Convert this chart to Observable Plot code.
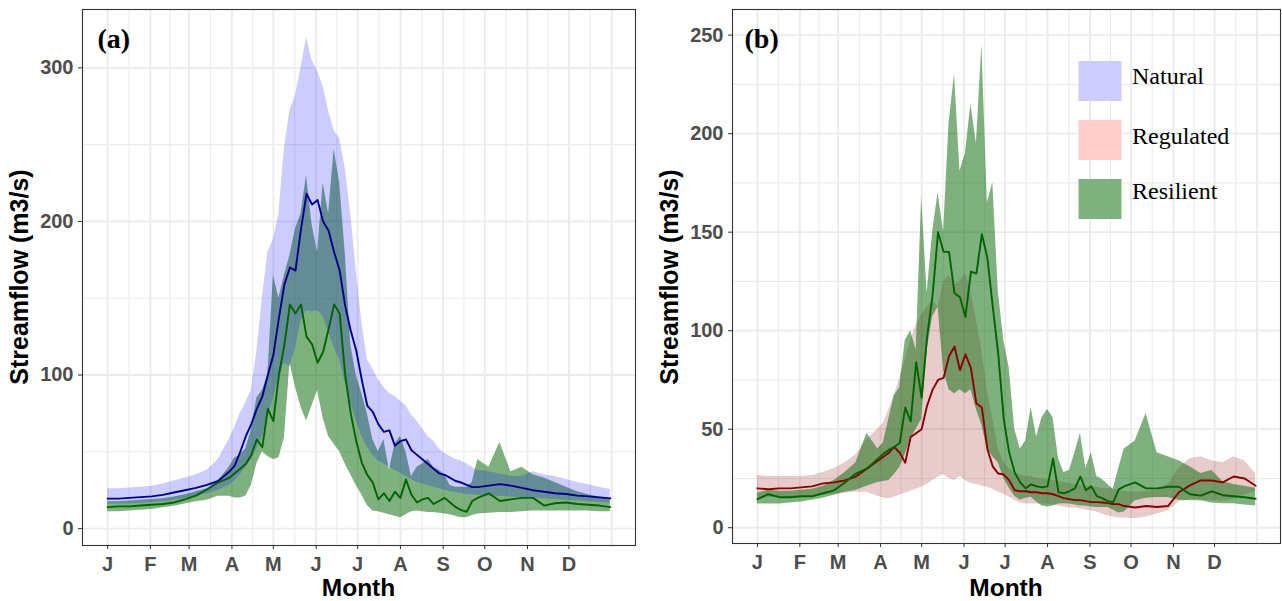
<!DOCTYPE html>
<html>
<head>
<meta charset="utf-8">
<script src="https://cdn.jsdelivr.net/npm/d3@7"></script>
<script src="https://cdn.jsdelivr.net/npm/@observablehq/plot@0.6"></script>
<style>
  html, body { margin: 0; padding: 0; background: #fff; }
  #wrap { display: flex; width: 1282px; height: 601px; }
  .panel { position: relative; width: 641px; height: 601px; }
  .panel > svg { position: absolute; left: 0; top: 0; }
  .panel g[aria-label="x-axis tick label"], .panel g[aria-label="y-axis tick label"] {
    font-family: "Liberation Sans", Arial, sans-serif; font-size: 20px; font-weight: 700; fill: #4d4d4d;
  }
  .overlay { pointer-events: none; }
</style>
</head>
<body>
<div id="wrap"><div class="panel" id="pa"></div><div class="panel" id="pb"></div></div>
<script>
// ---------------- data (day of year, values in m3/s) ----------------
const days = [1,9,17,25,33,41,49,57,65,73,81,89,
  93,97,101,105,109,113,117,121,125,129,133,137,141,145,149,153,157,161,165,169,173,177,181,185,189,193,197,201,205,209,213,217,221,225,229,233,237,241,245,249,253,257,261,265,269,
  277,285,293,301,309,317,325,333,341,349,357,365];

// Panel (a) — Natural
const naturalMeanA = [19.5,19.5,20,20.5,21,22,23.5,25,26.5,28.5,31,37,
  41,50,60,68,78,86,100,113,137,159,170,168,195,218,211,214,200,194,180,168,145,129,116,97,80,76,68,63,64,54,57,58,51,48,45,42,39,36,35,33,31,30,28.5,27,27,
  28,29,28,26.5,25,24,23,22.5,21.5,21,20.3,19.7];
const naturalHighA = [26,26,26.5,27,27.5,29,31,33,35,38,45,58,
  66,75,82,90,115,150,180,188,205,248,272,282,300,320,305,298,288,272,259,254,235,205,168,135,110,104,97,92,88,86,83,80,74,70,65,60,57,52,49,47,45,44,42,40,38,
  37,35.6,34,34,37,35,34,32,30,28.5,27,25.5];
const naturalLowA = [16,16,16,16.5,17,17.5,18.5,19.5,21,22.5,25,28,
  31,35,40,45,52,60,72,85,98,108,105,118,135,142,141,142,138,128,118,110,95,82,70,60,53,48,44,42,40,38,36,34,32,30,29,28,27,26,25,24,23.5,23,22,22,21.5,
  21,21,20.5,20,20,19.5,19,18.5,18,17.5,17,16.5];
// Panel (a) — Resilient
const resilientMeanA = [14,14.5,14.5,15,15.5,16,17,19,21.5,25.5,30,33,
  36,39,42,48,58,53,78,70,100,120,146,140,146,125,120,108,115,130,146,140,100,75,57,43,35,30,19,23,18,24,20,32,22,17,19,20,16,18,20,17,14,12,11,18,20,
  23,18,19,20,20,15,16.5,17,16,15.5,15,14];
const resilientHighA = [17.5,17.5,18,18.5,19,19.5,20.5,22,24,26,31,40,
  46,48,52,64,85,90,100,165,150,165,178,195,205,230,198,180,225,205,247,225,180,120,100,88,75,58,50,58,38,55,60,50,34,40,42,45,40,38,35,28,27,27,27,30,45,
  40,56,37,40,35,33,30,27,24,22,20.5,19.5];
const resilientLowA = [11,11,11.5,12,12.5,13.5,14.5,16,17.5,18.5,21,21,
  20,20,21,28,42,50,47,45,46,59,108,92,79,70,80,90,72,60,55,50,42,35,28,22,15,11.5,11,10,9,8,7,9,11,11.5,11,10.5,10.5,10,9.5,9,8,7,7,8.5,9.5,
  10,10.5,10.5,11,11.5,11.5,11.5,11.5,11.5,11.5,11,11];

// Panel (b) — Regulated
const regulatedMeanB = [20,19.5,20,20,20.5,21,22.5,23,24,26,30,34,
  36,38,41,38,33,46,48,50,62,70,75,76,87,92,80,88,81,63,61,40,31,27.5,27,24,19,18.5,18.5,18,18,17.5,17.5,17,16,15,14.5,14,14,13.5,13,13,12.8,12.5,12,12,11,
  10.3,11,10.5,11,18,21.5,24,24,23,26,25,21.3];
const regulatedHighB = [26.5,26,26,26,26,26.5,28,30,33,37,45,50,
  53,60,67,76,85,95,103,108,112,115,112,125,128,123,125,129,120,105,90,70,55,40,33,30,28,27,26,26,25,25,24.5,24,23.5,23,22.5,22,21.5,21,21,20.5,20,20,19.5,19,18.5,
  18,18.5,19,22,30,35,36,34,33,36,34,27.5];
const regulatedLowB = [15.5,15.5,15.5,15.5,16,16,16.5,17,17.5,18,18,16,
  15,14.7,15.5,16.5,17.5,18.5,19.5,20.5,22,24,25.6,27,25,24,26,24,22.5,22,21,20.5,19.5,18,17,15.5,14,12.5,12,12,12,12,12,11.5,11,10.5,10,10,9.5,9,8.5,8,7,6,5.5,5,5,
  4.6,5.5,7,8.6,13,14.5,14,14,13.5,14.5,16.5,18.5];
// Panel (b) — Resilient
const resilientMeanB = [14.5,17,15.5,15.5,16,16,17.5,19,23,27.5,30,35,
  37.5,39.5,41,43,61,54,84,66,97,118,150,140,140,119,117,107,130,129,149,137,112,88,55,38,28,23,20,22,21,20.5,21,35,18,17.5,18.5,20,26,19,21,16,15,13.5,13,19.5,21,
  23,20,20,20.8,20.8,17,16.3,18.5,16.5,16,15.5,14.7];
const resilientHighB = [17.5,19,18.5,18.5,19,19.5,21,24,28,33,48,40,
  43,55,67,71,95,100,90,168,119,150,170,150,205,230,181,190,215,195,245,165,175,120,95,81,50,40,44,61,46,56,60,56,35,28,29,38,48,30,38,26,24.5,22,19.5,30,40,
  44,58,38,36,34,31,27.5,29,23.5,22,21,20];
const resilientLowB = [12,12,12,12.5,13,14,15,16.5,18,19,21,23,
  23.5,24,27,30.6,37,45,50,55,90,107,112,80,70,68,70,68,70,60,52,40,36,33,25,20,16,14,15,15.5,13,11,10.5,11,12,12.2,12,11.5,11,11,10.5,10.3,10.3,10.3,9,7.5,8,
  13.7,15,15.4,15.4,14,13.7,13.7,12.5,12.2,12.2,11.5,11];

// Axes
const monthStarts = [1,32,60,91,121,152,182,213,244,274,305,335];
const monthLabels = ["J","F","M","A","M","J","J","A","S","O","N","D"];
const yTicksA = [0,100,200,300];
const yMinorA = [50,150,250];
const yTicksB = [0,50,100,150,200,250];
const yMinorB = [25,75,125,175,225];
const legendNames = ["Natural","Regulated","Resilient"];
const legendColors = ["#ccccff","#ffcccc","#80b280"];

// ---------------- drawing ----------------
const FONT = "'Liberation Sans', Arial, Helvetica, sans-serif";
const SERIF = "'Liberation Serif', 'Times New Roman', Times, serif";
const GRID = "#ebebeb";
const monthGrid = [...monthStarts, 366];
const minorGrid = d3.pairs(monthGrid, (a, b) => (a + b) / 2);
const xDomain = [-17.2, 383.2];

function table(mean, lo, hi) {
  return days.map((day, i) => ({day, mean: mean[i], lo: lo[i], hi: hi[i]}));
}
const natA = table(naturalMeanA, naturalLowA, naturalHighA);
const resA = table(resilientMeanA, resilientLowA, resilientHighA);
const regB = table(regulatedMeanB, regulatedLowB, regulatedHighB);
const resB = table(resilientMeanB, resilientLowB, resilientHighB);

function ribbon(data, fill, op) {
  return Plot.areaY(data, {x: "day", y1: "lo", y2: "hi", fill, fillOpacity: op});
}
function line(data, stroke) {
  return Plot.lineY(data, {x: "day", y: "mean", stroke, strokeWidth: 1.9});
}

function drawPanel(id, cfg) {
  const el = document.getElementById(id);
  const svg = Plot.plot({
    width: 641, height: 601,
    marginTop: 9, marginLeft: cfg.ml, marginRight: cfg.mr, marginBottom: cfg.mb,
    x: {domain: xDomain},
    y: {domain: cfg.yDomain},
    style: {fontFamily: FONT, background: "white"},
    marks: [
      Plot.ruleX(minorGrid, {stroke: GRID, strokeWidth: 1.1}),
      Plot.ruleY(cfg.yMinor, {stroke: GRID, strokeWidth: 1.1}),
      Plot.ruleX(monthGrid, {stroke: GRID, strokeWidth: 1.8}),
      Plot.ruleY(cfg.yTicks, {stroke: GRID, strokeWidth: 1.8}),
      ...cfg.layers,
      Plot.frame({stroke: "#333", strokeWidth: 1.1}),
      Plot.axisX(monthStarts, {tickFormat: d => monthLabels[monthStarts.indexOf(d)], tickSize: 4, tickPadding: 7,
        stroke: "#333", fill: "#4d4d4d", fontSize: 20, fontWeight: "bold", label: null}),
      Plot.axisY(cfg.yTicks, {tickSize: 4, tickPadding: 5,
        stroke: "#333", fill: "#4d4d4d", fontSize: 20, fontWeight: "bold", label: null})
    ]
  });
  el.appendChild(svg);

  const ov = d3.select(el).append("svg").attr("class", "overlay")
    .attr("width", 641).attr("height", 601)
    .style("position", "absolute").style("left", 0).style("top", 0);
  ov.append("text").text("Streamflow (m3/s)")
    .attr("transform", `translate(${cfg.yTitleX},277) rotate(-90)`)
    .attr("text-anchor", "middle").attr("dominant-baseline", "central")
    .attr("font-family", FONT).attr("font-weight", 700).attr("font-size", 25).attr("fill", "#000");
  ov.append("text").text("Month")
    .attr("x", (cfg.ml + 641 - cfg.mr) / 2).attr("y", 596)
    .attr("text-anchor", "middle")
    .attr("font-family", FONT).attr("font-weight", 700).attr("font-size", 24.5).attr("fill", "#000");
  ov.append("text").text(cfg.tag)
    .attr("x", cfg.tagX).attr("y", 47.5)
    .attr("font-family", SERIF).attr("font-weight", 700).attr("font-size", 28).attr("fill", "#000");
  return ov;
}

drawPanel("pa", {
  ml: 82, mr: 6, mb: 56, yDomain: [-11, 338], yTicks: yTicksA, yMinor: yMinorA,
  yTitleX: 19, tag: "(a)", tagX: 97.5,
  layers: [
    ribbon(resA, "#006400", 0.5),
    ribbon(natA, "#0000ff", 0.2),
    line(natA, "#00008b"),
    line(resA, "#006400")
  ]
});

const ovB = drawPanel("pb", {
  ml: 91, mr: 2, mb: 58, yDomain: [-8, 263], yTicks: yTicksB, yMinor: yMinorB,
  yTitleX: 28, tag: "(b)", tagX: 103.5,
  layers: [
    ribbon(regB, "#8b0000", 0.2),
    ribbon(resB, "#006400", 0.5),
    line(regB, "#8b0000"),
    line(resB, "#006400")
  ]
});

// legend inside panel (b)
const legTop = [61, 120, 179];
const legBase = [84, 144, 199];
legendNames.forEach((name, i) => {
  ovB.append("rect").attr("x", 437.5).attr("y", legTop[i]).attr("width", 43).attr("height", 40)
    .attr("fill", legendColors[i]);
  ovB.append("text").text(name).attr("x", 491).attr("y", legBase[i])
    .attr("font-family", SERIF).attr("font-size", 24).attr("fill", "#000");
});
</script>
</body>
</html>
